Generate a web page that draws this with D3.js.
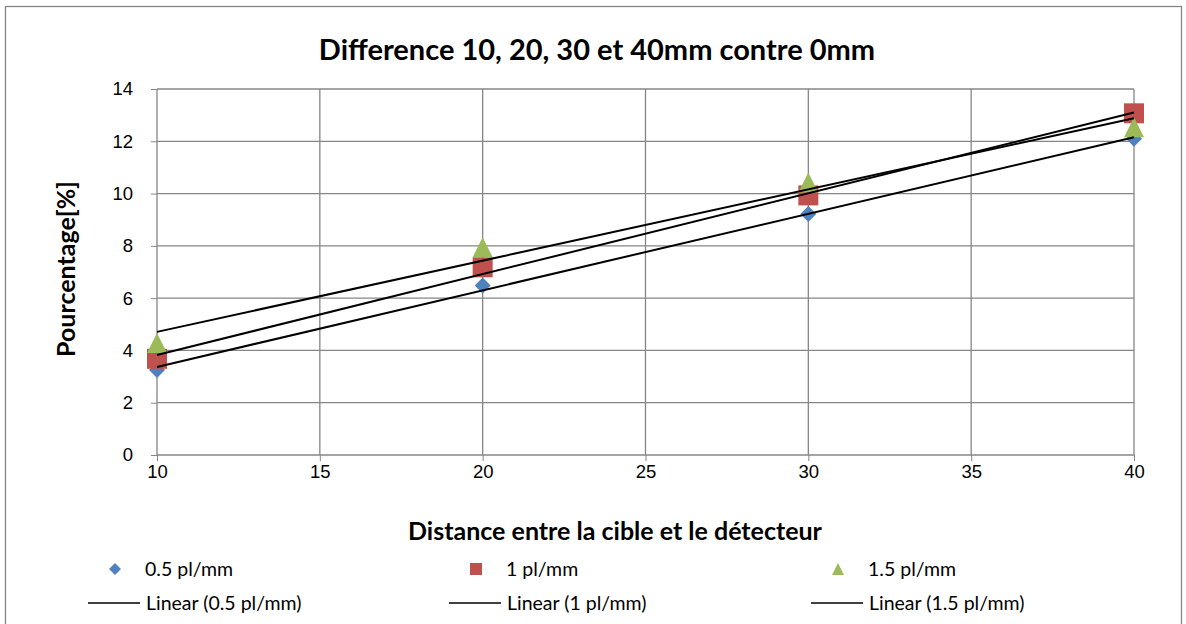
<!DOCTYPE html>
<html><head><meta charset="utf-8">
<script src="https://cdn.jsdelivr.net/npm/d3@7"></script>
<style>body{margin:0;background:#fff}svg{display:block;font-family:Lato,"Open Sans",sans-serif}</style>
</head><body><svg id="c" width="1186" height="624"></svg>
<script>
const xValues = [10, 20, 30, 40];
const s05 = [3.25, 6.48, 9.22, 12.1];
const s10 = [3.68, 7.18, 9.93, 13.07];
const s15 = [4.28, 7.95, 10.42, 12.54];
const seriesNames = ["0.5 pl/mm", "1 pl/mm", "1.5 pl/mm"];
const colors = ["#4F81BD", "#C0504D", "#9BBB59"];
const shapes = ["diamond", "square", "triangle"];
const xTicks = [10, 15, 20, 25, 30, 35, 40];
const yTicks = [0, 2, 4, 6, 8, 10, 12, 14];
const series = [s05, s10, s15];

const svg = d3.select("#c");
svg.append("rect").attr("x",5.5).attr("y",6.5).attr("width",1176).attr("height",640)
  .attr("fill","#fff").attr("stroke","#868686").attr("stroke-width",1.3);

const x = d3.scaleLinear().domain([10,40]).range([157,1134]);
const y = d3.scaleLinear().domain([0,14]).range([455,89]);
const grid = "#868686";

const gx = svg.append("g").attr("transform","translate(0,455)")
  .call(d3.axisBottom(x).tickValues(xTicks).tickSize(6).tickPadding(4));
gx.select(".domain").remove();
gx.selectAll("line").attr("stroke",grid);
gx.selectAll("text").attr("font-size",18.5).attr("fill","#000");
const gy = svg.append("g").attr("transform","translate(157,0)")
  .call(d3.axisLeft(y).tickValues(yTicks).tickSize(6).tickPadding(18));
gy.select(".domain").remove();
gy.selectAll("line").attr("stroke",grid);
gy.selectAll("text").attr("font-size",18.5).attr("fill","#000");

svg.append("g").selectAll("line").data(xTicks).join("line")
  .attr("x1",d=>x(d)).attr("x2",d=>x(d)).attr("y1",y(14)).attr("y2",y(0))
  .attr("stroke",grid).attr("stroke-width",1.3);
svg.append("g").selectAll("line").data(yTicks).join("line")
  .attr("x1",x(10)).attr("x2",x(40)).attr("y1",d=>y(d)).attr("y2",d=>y(d))
  .attr("stroke",grid).attr("stroke-width",1.3);

function symbolPath(shape, big){
  if(shape==="diamond"){const r=big?8:6;return `M0,${-r}L${r},0L0,${r}L${-r},0Z`;}
  if(shape==="square"){const r=big?10:6;return `M${-r},${-r}H${r}V${r}H${-r}Z`;}
  const w=big?10:6,h=big?10:6;return `M0,${-h}L${w},${h}L${-w},${h}Z`;
}

series.forEach((vals,i)=>{
  svg.append("g").selectAll("path").data(vals).join("path")
    .attr("d",symbolPath(shapes[i],true))
    .attr("transform",(d,j)=>`translate(${x(xValues[j])},${y(d)})`)
    .attr("fill",colors[i]);
});

function fit(vals){
  const mx=d3.mean(xValues), my=d3.mean(vals);
  const b=d3.sum(xValues,(xv,j)=>(xv-mx)*(vals[j]-my))/d3.sum(xValues,xv=>(xv-mx)**2);
  return xv=>my+b*(xv-mx);
}
series.forEach(vals=>{
  const f=fit(vals);
  svg.append("line").attr("x1",x(10)).attr("y1",y(f(10))).attr("x2",x(40)).attr("y2",y(f(40)))
    .attr("stroke","#000").attr("stroke-width",2);
});

svg.append("text").attr("x",597).attr("y",60).attr("text-anchor","middle")
  .attr("font-size",29).attr("font-weight","bold").text("Difference 10, 20, 30 et 40mm contre 0mm");
svg.append("text").attr("transform","translate(75,269) rotate(-90)").attr("text-anchor","middle")
  .attr("font-size",25).attr("font-weight","bold").text("Pourcentage[%]");
svg.append("text").attr("x",615).attr("y",540).attr("text-anchor","middle")
  .attr("font-size",25).attr("font-weight","bold").text("Distance entre la cible et le détecteur");

const legX=[115,476,838];
seriesNames.forEach((n,i)=>{
  svg.append("path").attr("d",symbolPath(shapes[i],false))
    .attr("transform",`translate(${legX[i]},569)`).attr("fill",colors[i]);
  svg.append("text").attr("x",legX[i]+30).attr("y",576).attr("font-size",19.5).text(n);
  svg.append("line").attr("x1",legX[i]-27).attr("x2",legX[i]+25).attr("y1",603).attr("y2",603)
    .attr("stroke","#000").attr("stroke-width",1.5);
  svg.append("text").attr("x",legX[i]+31).attr("y",610).attr("font-size",19.5).text(`Linear (${n})`);
});
</script></body></html>
